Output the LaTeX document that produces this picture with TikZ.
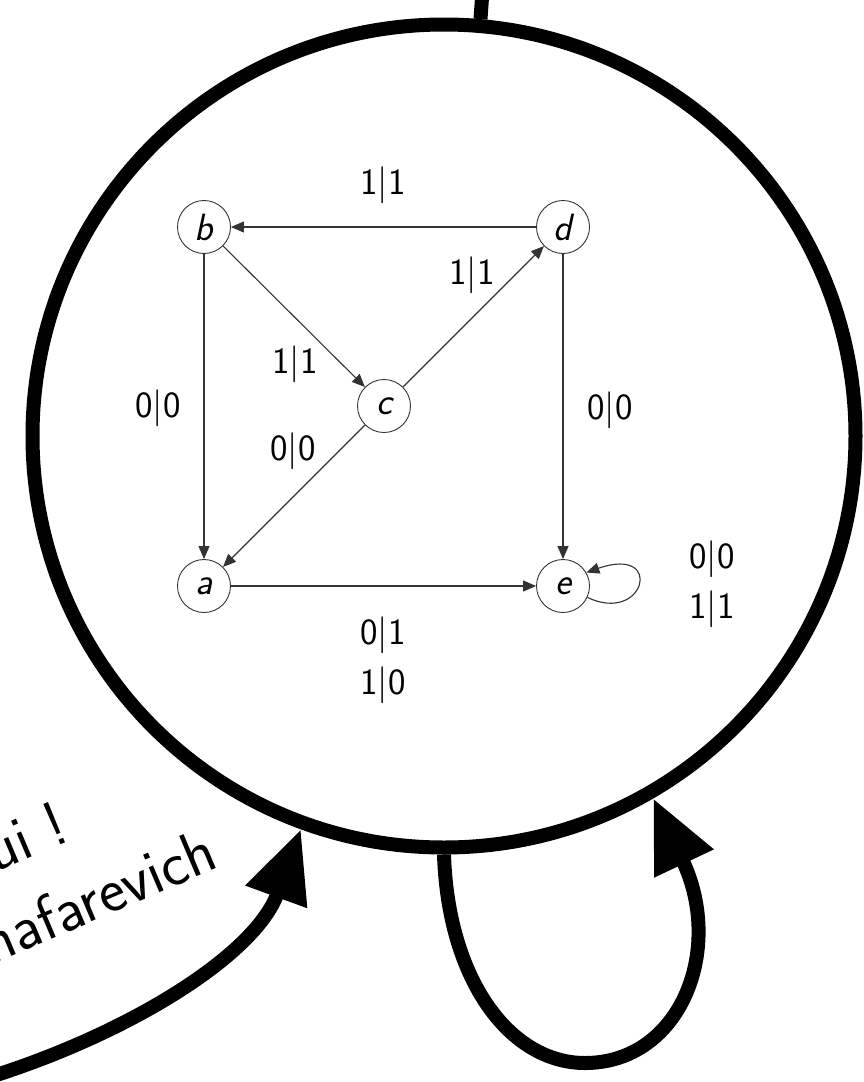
\documentclass[tikz,border=0pt]{standalone}
\usetikzlibrary{arrows.meta}
\begin{document}
\begin{tikzpicture}[
  x=1pt, y=-1pt,
  state/.style={circle, draw=black!80, line width=0.9pt, minimum size=53pt, inner sep=0pt,
                font=\fontsize{38}{46}\selectfont\sffamily\itshape},
  lab/.style={font=\fontsize{37}{50}\selectfont\sffamily, align=center},
  say/.style={font=\fontsize{63}{66}\selectfont\sffamily, rotate=23, inner sep=0pt},
  edge/.style={-{Triangle[length=13pt,width=11pt]}, draw=black!80, line width=1.1pt},
  big/.style={line width=14pt},
  bigarr/.style={big, -{Triangle[length=72pt,width=62pt]}}
]
  \useasboundingbox (0,0) rectangle (864,1082);

  % Big circle
  \node[circle, draw, big, minimum size=823pt, inner sep=0pt] (world) at (444,436) {};
  \coordinate (up) at (484,-30);
  \draw[big] (world.85) -- (up);

  % States
  \node[state] (b) at (204,227) {b};
  \node[state] (d) at (563,227) {d};
  \node[state] (c) at (384,406) {c};
  \node[state] (a) at (204,586) {a};
  \node[state] (e) at (563,586) {e};

  % Transitions
  \draw[edge] (d) -- (b);
  \draw[edge] (b) -- (c);
  \draw[edge] (c) -- (d);
  \draw[edge] (b) -- (a);
  \draw[edge] (c) -- (a);
  \draw[edge] (d) -- (e);
  \draw[edge] (a) -- (e);
  \draw[edge] (e.-25) .. controls (645,625) and (665,545) .. (e.30);

  % Labels
  \node[lab] (ldb) at (383,185) {1|1};
  \node[lab] (lbc) at (295,364) {1|1};
  \node[lab] (lcd) at (472,275) {1|1};
  \node[lab] (lba) at (158,408) {0|0};
  \node[lab] (lca) at (293,451) {0|0};
  \node[lab] (lde) at (610,410) {0|0};
  \node[lab] (lae) at (383,660) {0|1\\1|0};
  \node[lab] (lee) at (712,584) {0|0\\1|1};

  % Outer arrows
  \coordinate (src) at (-10,1077);
  \draw[bigarr] (src) .. controls (130,1033) and (255,955) .. (world.250);
  \draw[bigarr] (world.south) .. controls (448,980) and (510,1063) .. (585,1063)
                .. controls (680,1063) and (725,950) .. (world.-60);

  % Caption
  \node[say, anchor=base east] (say1) at (72,840) {C'est lui !};
  \node[say, anchor=base east] (say2) at (221,867) {Shafarevich};
\end{tikzpicture}
\end{document}
